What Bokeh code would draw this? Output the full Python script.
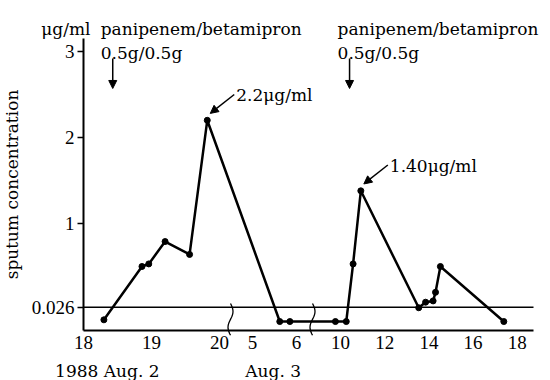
import math
from bokeh.plotting import figure
from bokeh.models import Range1d, FixedTicker, Label, Arrow, NormalHead, LinearAxis
from bokeh.embed import file_html
from bokeh.resources import INLINE

# ---------------- data ----------------
# sampling times: (day, clock hour) ; day 1 = 1988 Aug. 2, day 2 = Aug. 3
sample_days = [1, 1, 1, 1, 1, 1,
               2, 2, 2, 2, 2, 2, 2, 2, 2, 2, 2, 2]
sample_hours = [18.30, 18.86, 18.96, 19.20, 19.56, 19.82,
                5.62, 5.85, 9.77, 10.26, 10.57, 10.92, 13.54, 13.85, 14.19, 14.30, 14.52, 17.39]
concentration = [-0.12, 0.50, 0.53, 0.79, 0.64, 2.20,
                 -0.14, -0.14, -0.14, -0.14, 0.53, 1.38, 0.02, 0.085, 0.10, 0.20, 0.50, -0.14]
detection_limit = 0.026
y_ticks = [0.026, 1, 2, 3]
x_tick_days = [1, 1, 1, 2, 2, 2, 2, 2, 2, 2]
x_tick_hours = [18, 19, 20, 5, 6, 10, 12, 14, 16, 18]
dose_days = [1, 2]
dose_hours = [18.43, 10.41]
dose_drug = "panipenem/betamipron"
dose_amount = "0.5g/0.5g"
unit_text = "μg/ml"
peak_texts = ["2.2μg/ml", "1.40μg/ml"]
peak_index = [5, 11]
day_texts = ["1988 Aug. 2", "Aug. 3"]
day_text_hours = [(1, 18.35), (2, 5.47)]

# broken time axis: (day, first hour, last hour, axis start, axis units per hour)
segments = [(1, 17.5, 21.0, 0.0, 68.0),
            (2, 4.5, 7.5, 169.0, 44.0),
            (2, 7.5, 19.0, 257.0, 22.1)]
anchor_hours = {0: 18, 1: 5, 2: 10}
break_positions = [147.0, 229.0]
x_axis_span = (0, 450)
y_axis_span = (-0.244, 3.151)


def to_axis(day, h):
    for i, (d, h0, h1, u0, k) in enumerate(segments):
        if d == day and h0 <= h < h1:
            return round(u0 + (h - anchor_hours[i]) * k, 2)
    raise ValueError


FONT = "DejaVu Serif"
NUMFONT = "Liberation Serif"
FS = "17px"

xs = [to_axis(d, h) for d, h in zip(sample_days, sample_hours)]

p = figure(width=550, height=380, output_backend="svg", toolbar_location=None,
           x_range=Range1d(-83, 467), y_range=Range1d(-0.8256, 3.593),
           x_axis_location=None, y_axis_location=None,
           min_border_left=0, min_border_right=0, min_border_top=0, min_border_bottom=0)
p.outline_line_color = None
p.xgrid.visible = False
p.ygrid.visible = False
p.background_fill_color = "white"
p.border_fill_color = "white"

# y axis (fixed at the start of the time axis)
ya = LinearAxis(fixed_location=x_axis_span[0], bounds=y_axis_span)
ya.ticker = FixedTicker(ticks=y_ticks)
ya.major_label_overrides = {t: (str(t)) for t in y_ticks}
ya.axis_line_width = 2
ya.axis_line_color = "black"
ya.major_tick_out = 6
ya.major_tick_in = 0
ya.major_tick_line_width = 1.5
ya.minor_tick_out = 0
ya.minor_tick_in = 0
ya.major_label_text_font = NUMFONT
ya.major_label_text_font_size = "19px"
ya.major_label_text_color = "black"
ya.major_label_standoff = 3
ya.axis_label = "sputum concentration"
ya.axis_label_text_font = FONT
ya.axis_label_text_font_size = FS
ya.axis_label_text_font_style = "normal"
ya.axis_label_text_color = "black"
ya.axis_label_standoff = 7
p.add_layout(ya, "left")

# x axis (fixed at the bottom of the concentration axis)
xa = LinearAxis(fixed_location=y_axis_span[0], bounds=x_axis_span)
tick_pos = [to_axis(d, h) for d, h in zip(x_tick_days, x_tick_hours)]
xa.ticker = FixedTicker(ticks=tick_pos)
xa.major_label_overrides = {u: str(h) for u, h in zip(tick_pos, x_tick_hours)}
xa.axis_line_width = 2
xa.axis_line_color = "black"
xa.major_tick_out = 0
xa.major_tick_in = 0
xa.minor_tick_out = 0
xa.minor_tick_in = 0
xa.major_label_text_font = NUMFONT
xa.major_label_text_font_size = "19px"
xa.major_label_text_color = "black"
xa.major_label_standoff = 6
p.add_layout(xa, "below")

# detection limit line
p.segment(x0=[x_axis_span[0]], y0=[detection_limit], x1=[x_axis_span[1]], y1=[detection_limit],
          line_color="black", line_width=1.5)

# axis break marks
for b in break_positions:
    ys = [0.07 - 0.37 * i / 20 for i in range(21)]
    bx = [b + 2.5 * math.sin(2 * math.pi * i / 20) for i in range(21)]
    p.line(bx, ys, line_color="black", line_width=1.3)

# data
p.line(xs, concentration, line_color="black", line_width=2.5)
p.scatter(xs, concentration, size=6, color="black")


def label(x, y, text, align="left", baseline="alphabetic", font=FONT):
    p.add_layout(Label(x=x, y=y, text=text, text_font=font, text_font_size=FS,
                       text_color="black", text_align=align, text_baseline=baseline))


# dose annotations
for d, h in zip(dose_days, dose_hours):
    u = to_axis(d, h)
    p.add_layout(Arrow(end=NormalHead(size=8, fill_color="black", line_color="black"),
                       x_start=u, y_start=2.92, x_end=u, y_end=2.57,
                       line_color="black", line_width=1.5))
    label(u - 12, 3.256, dose_drug)
    label(u - 12, 2.977, dose_amount)

# unit label
label(7, 3.256, unit_text, align="right")

# peak annotations
for txt, i in zip(peak_texts, peak_index):
    u, c = xs[i], concentration[i]
    p.add_layout(Arrow(end=NormalHead(size=8, fill_color="black", line_color="black"),
                       x_start=u + 27, y_start=c + 0.3, x_end=u + 3, y_end=c + 0.08,
                       line_color="black", line_width=1.5))
    label(u + 29, c + 0.29, txt, baseline="middle")

# day labels
for txt, (d, h) in zip(day_texts, day_text_hours):
    label(to_axis(d, h), -0.72, txt, align="center")

open("out.html", "w").write(file_html(p, INLINE))
